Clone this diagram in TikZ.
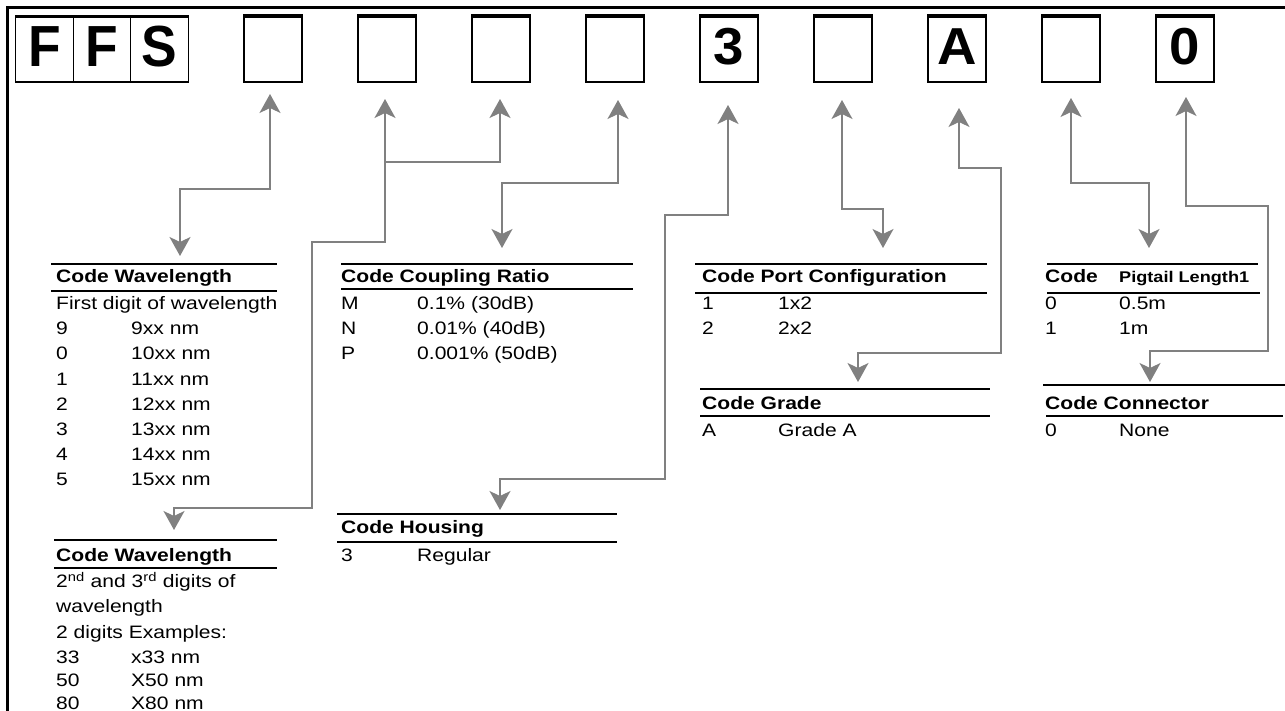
\documentclass[tikz,border=0pt]{standalone}
\usepackage{fontspec}
\setmainfont{Liberation Sans}[FakeStretch=1.17]
\newfontfamily\bigfont{Liberation Sans}[FakeStretch=1.05]
\newfontfamily\ffsfont{Liberation Sans}[FakeStretch=0.92]
\usetikzlibrary{calc}
\usetikzlibrary{arrows.meta}
\definecolor{arrowgray}{RGB}{128,128,128}
\tikzset{gtip/.tip={Stealth[length=19pt,width=21pt,inset=5pt]}}

\begin{document}
\begin{tikzpicture}[x=1pt, y=-1pt,
  codebox/.style={draw, line width=1.5pt, minimum width=58pt, minimum height=65pt, inner sep=0pt,
    text height=38pt, text depth=8pt, font=\bigfont\bfseries\fontsize{52}{52}\selectfont},
  cellbox/.style={codebox, line width=1pt, minimum width=57.3pt,
    text height=42pt, text depth=7pt, font=\ffsfont\bfseries\fontsize{58}{58}\selectfont},
  conn/.style={draw=arrowgray, line width=1.2pt, gtip-gtip},
  halfconn/.style={draw=arrowgray, line width=1.2pt, gtip-},
  rule/.style={line width=1.3pt},
  cell/.style={anchor=base west, inner sep=0pt, font=\fontsize{18}{20}\selectfont},
  head/.style={cell, font=\bfseries\fontsize{18}{20}\selectfont}]

\useasboundingbox (0,0) rectangle (1285,711);
\fill[white] (0,0) rectangle (1285,711);
\draw[line width=3pt] (7,711) -- (7,8) -- (1285,8);

\node[cellbox] (f1) at (44.6,49.5) {F};
\node[cellbox] (f2) at (102,49.5) {F};
\node[cellbox] (f3) at (159.4,49.5) {S};
\draw[line width=1.5pt] (f1.north west) rectangle (f3.south east);
\draw[line width=3.5pt] (f1.north west) -- (f3.north east);

\foreach \i/\t in {0/{},1/{},2/{},3/{},4/3,5/{},6/A,7/{},8/0} {
  \node[codebox] (b\i) at (273+114*\i,49.5) {\t};
  \draw[line width=3.5pt] (b\i.north west) -- (b\i.north east);
}

\coordinate (u0) at (270,94);
\coordinate (u1) at (385,99);
\coordinate (u2) at (500,99);
\coordinate (u3) at (618,100);
\coordinate (u4) at (728,105);
\coordinate (u5) at (842,100);
\coordinate (u6) at (959,108);
\coordinate (u7) at (1071,98);
\coordinate (u8) at (1186,97);
\coordinate (w0) at (180,256);
\coordinate (w1) at (174,530);
\coordinate (w3) at (502,248);
\coordinate (w4) at (500,510);
\coordinate (w5) at (883,248);
\coordinate (w6) at (858,382);
\coordinate (w7) at (1149,248);
\coordinate (w8) at (1150,382);

\draw[conn] (u0) -- ++(0,95) -| (w0);
\draw[conn] (u1) -- ++(0,143) -| ++(-73,266) -| (w1);
\draw[halfconn] (u2) |- (u1 |- 0,162);
\draw[conn] (u3) -- ++(0,83) -| (w3);
\draw[conn] (u4) -- ++(0,110) -| ++(-63,264) -| (w4);
\draw[conn] (u5) -- ++(0,109) -| (w5);
\draw[conn] (u6) -- ++(0,60) -| ++(42,185) -| (w6);
\draw[conn] (u7) -- ++(0,85) -| (w7);
\draw[conn] (u8) -- ++(0,109) -| ++(82,145) -| (w8);

\draw[rule] (51,264) -- (277,264);
\draw[rule] (51,291) -- (277,291);
\node[head] (h1) at (56,282.5) {Code Wavelength};
\node[cell] (r1) at (56,309.5) {First digit of wavelength};
\foreach \k/\a/\b in {1/9/9xx nm,2/0/10xx nm,3/1/11xx nm,4/2/12xx nm,5/3/13xx nm,6/4/14xx nm,7/5/15xx nm} {
  \node[cell] (r1a\k) at (56,309.5+25.2*\k) {\a};
  \node[cell] (r1b\k) at (131,309.5+25.2*\k) {\b};
}

\draw[rule] (54,540) -- (277,540);
\draw[rule] (54,568) -- (277,568);
\node[head] (h2) at (56,561.5) {Code Wavelength};
\node[cell] (r2) at (56,587.5) {2\textsuperscript{nd} and 3\textsuperscript{rd} digits of};
\node[cell] (r2w) at (56,612.5) {wavelength};
\node[cell] (r2e) at (56,638.5) {2 digits Examples:};
\foreach \k/\a/\b in {0/33/x33 nm,1/50/X50 nm,2/80/X80 nm} {
  \node[cell] (r2a\k) at (56,663.5+23*\k) {\a};
  \node[cell] (r2b\k) at (131,663.5+23*\k) {\b};
}

\draw[rule] (341,264) -- (633,264);
\draw[rule] (341,289) -- (633,289);
\node[head] (h3) at (341,282.5) {Code Coupling Ratio};
\foreach \k/\a/\b in {0/M/0.1\% (30dB),1/N/0.01\% (40dB),2/P/0.001\% (50dB)} {
  \node[cell] (r3a\k) at (341,309.5+25.2*\k) {\a};
  \node[cell] (r3b\k) at (417,309.5+25.2*\k) {\b};
}

\draw[rule] (337,514) -- (617,514);
\draw[rule] (337,542) -- (617,542);
\node[head] (h4) at (341,533.5) {Code Housing};
\node[cell] (r4a) at (341,561.5) {3};
\node[cell] (r4b) at (417,561.5) {Regular};

\draw[rule] (695,264) -- (987,264);
\draw[rule] (695,293) -- (987,293);
\node[head] (h5) at (702,282.5) {Code Port Configuration};
\foreach \k/\a/\b in {0/1/1x2,1/2/2x2} {
  \node[cell] (r5a\k) at (702,309.5+25.2*\k) {\a};
  \node[cell] (r5b\k) at (778,309.5+25.2*\k) {\b};
}

\draw[rule] (700,389) -- (990,389);
\draw[rule] (700,416) -- (990,416);
\node[head] (h6) at (702,409.5) {Code Grade};
\node[cell] (r6a) at (702,436.5) {A};
\node[cell] (r6b) at (778,436.5) {Grade A};

\draw[rule] (1047,264) -- (1258,264);
\draw[rule] (1047,293) -- (1260,293);
\node[head] (h7) at (1045,282.5) {Code};
\node[head, font=\bfseries\fontsize{15.5}{17}\selectfont] (h7b) at (1119,282.5) {Pigtail Length1};
\foreach \k/\a/\b in {0/0/0.5m,1/1/1m} {
  \node[cell] (r7a\k) at (1045,309.5+25.2*\k) {\a};
  \node[cell] (r7b\k) at (1119,309.5+25.2*\k) {\b};
}

\draw[rule] (1043,385) -- (1285,385);
\draw[rule] (1046,416) -- (1283,416);
\node[head] (h8) at (1045,409.5) {Code Connector};
\node[cell] (r8a) at (1045,436.5) {0};
\node[cell] (r8b) at (1119,436.5) {None};

\end{tikzpicture}
\end{document}
